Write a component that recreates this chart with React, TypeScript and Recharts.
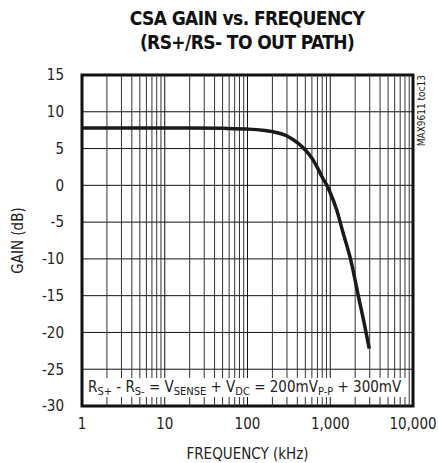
import { LineChart, Line, XAxis, YAxis, CartesianGrid, ReferenceLine, ReferenceArea, Label } from 'recharts';

// frequency (kHz) vs gain (dB)
const freqs = [1, 2, 5, 10, 20, 50, 100, 150, 200, 300, 400, 500, 600, 700, 800, 900, 1000, 1200, 1400, 1800, 2200, 2600, 2960];
const gains = [7.8, 7.8, 7.8, 7.8, 7.8, 7.75, 7.65, 7.5, 7.3, 6.7, 5.8, 4.8, 3.7, 2.4, 1.1, 0.1, -1.0, -3.4, -6.1, -10.5, -15.2, -19.0, -22.2];

const xTicks = [1, 10, 100, 1000, 10000];
const yTicks = [-30, -25, -20, -15, -10, -5, 0, 5, 10, 15];
const minorFreqs = [2, 3, 4, 5, 6, 7, 8, 9, 20, 30, 40, 50, 60, 70, 80, 90, 200, 300, 400, 500, 600, 700, 800, 900, 2000, 3000, 4000, 5000, 6000, 7000, 8000, 9000];
const decadeFreqs = [10, 100, 1000];

const data = freqs.map((f, i) => ({ freq: f, gain: gains[i] }));

const font = '"DejaVu Sans Condensed", "Liberation Sans Narrow", sans-serif';

const sub = { fontSize: 11, verticalAlign: -3 } as const;

export default function App() {
  return (
    <div style={{ position: 'absolute', left: 0, top: 0, width: 438, height: 463, background: '#fff', fontFamily: font, fontStretch: 'condensed', color: '#222' }}>
      <div style={{ position: 'absolute', left: 0, top: 6, width: 494, textAlign: 'center', fontWeight: 'bold', fontSize: 19, letterSpacing: -0.6, lineHeight: '24px', color: '#111' }}>
        CSA GAIN vs. FREQUENCY<br />(RS+/RS- TO OUT PATH)
      </div>
      <LineChart width={438} height={463} data={data} margin={{ top: 75, right: 25, bottom: 0, left: 0 }} style={{ fontFamily: font, fontStretch: 'condensed' }}>
        <CartesianGrid vertical={false} stroke="#111" strokeWidth={1} />
        {minorFreqs.map((f) => (
          <ReferenceLine key={f} x={f} stroke="#333" strokeWidth={1} />
        ))}
        {decadeFreqs.map((f) => (
          <ReferenceLine key={'d' + f} x={f} stroke="#111" strokeWidth={1} />
        ))}
        <XAxis
          dataKey="freq"
          type="number"
          scale="log"
          domain={[1, 10000]}
          ticks={xTicks}
          tickFormatter={(v) => v.toLocaleString('en-US')}
          axisLine={false}
          tickLine={false}
          tickSize={0}
          tickMargin={12}
          height={57}
          tick={{ fontSize: 15, fill: '#222' }}
          allowDataOverflow
        >
          <Label value="FREQUENCY (kHz)" position="insideBottom" offset={4} style={{ fontSize: 15, fill: '#222' }} />
        </XAxis>
        <YAxis
          type="number"
          domain={[-30, 15]}
          ticks={yTicks}
          axisLine={false}
          tickLine={false}
          tickSize={0}
          tickMargin={18}
          width={82}
          tick={{ fontSize: 15, fill: '#222' }}
        >
          <Label value="GAIN (dB)" angle={-90} position="insideLeft" offset={18} style={{ fontSize: 15, fill: '#222', textAnchor: 'middle' }} />
        </YAxis>
        <ReferenceArea x1={1} x2={10000} y1={-30} y2={15} fill="none" stroke="#111" strokeWidth={3} />
        <Line type="monotone" dataKey="gain" stroke="#1a1a1a" strokeWidth={3.5} dot={false} isAnimationActive={false} />
      </LineChart>
      <div style={{ position: 'absolute', left: 85, top: 378, width: 318, height: 19, background: '#fff', fontSize: 15, lineHeight: '19px', whiteSpace: 'nowrap', paddingLeft: 3, overflow: 'hidden' }}>
        R<span style={sub}>S+</span> - R<span style={sub}>S-</span> = V<span style={sub}>SENSE</span> + V<span style={sub}>DC</span> = 200mV<span style={sub}>P-P</span> + 300mV
      </div>
      <div style={{ position: 'absolute', left: 416, top: 75, fontSize: 10, writingMode: 'vertical-rl', transform: 'rotate(180deg)', whiteSpace: 'nowrap' }}>
        MAX9611 toc13
      </div>
    </div>
  );
}
